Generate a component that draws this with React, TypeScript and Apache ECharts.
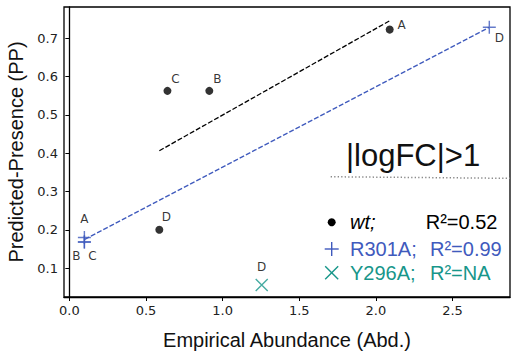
import React, { useEffect, useRef } from "react";
import * as echarts from "echarts";

// ---- data ----
const wtNames = ["A", "B", "C", "D"];
const wtX = [2.09, 0.913, 0.64, 0.587];
const wtY = [0.723, 0.563, 0.563, 0.2];

const r301Names = ["A", "B", "C", "D"];
const r301X = [0.098, 0.098, 0.098, 2.74];
const r301Y = [0.18, 0.168, 0.168, 0.729];

const y296Names = ["D"];
const y296X = [1.255];
const y296Y = [0.056];

// fitted regression segments (endpoints)
const wtFitX = [0.587, 2.09];
const wtFitY = [0.4065, 0.746];
const r301FitX = [0.1, 2.74];
const r301FitY = [0.175, 0.729];

// |logFC|>1 threshold line
const thrX = [1.705, 2.875];
const thrY = [0.3386, 0.3345];

const xTicks = [0, 0.5, 1.0, 1.5, 2.0, 2.5];
const yTicks = [0.1, 0.2, 0.3, 0.4, 0.5, 0.6, 0.7];

const legendGroups = ["wt;", "R301A;", "Y296A;"];
const legendR2 = ["R²=0.52", "R²=0.99", "R²=NA"];

// ---- styling ----
const BLUE = "#3f5abd";
const TEAL = "#17968a";
const SANS = "Liberation Sans, Arial, sans-serif";
const DEJA = "DejaVu Sans, sans-serif";

const wtLabelOffsets = [[12, -5], [8, -12], [8, -12], [7, -13]];
const r301LabelOffsets = [[0, -18], [-8, 14], [8, 14], [10, 11]];
const y296LabelOffsets = [[0, -18]];

const PLUS = "path://M0,4.45h10v1.1h-10z M4.45,0h1.1v10h-1.1z";
const CROSS = "path://M0,0.75L0.75,0L10,9.25L9.25,10z M9.25,0L10,0.75L0.75,10L0,9.25z";

function pts(xs: number[], ys: number[], names: string[], offs: number[][]) {
  return xs.map((x, i) => ({
    value: [x, ys[i]],
    name: names[i],
    label: { offset: offs[i] },
  }));
}

export default function App() {
  const ref = useRef<HTMLDivElement>(null);
  useEffect(() => {
    if (!ref.current) return;
    const chart = echarts.init(ref.current, undefined, { renderer: "svg" });
    const pointLabel = {
      show: true,
      position: "inside",
      formatter: (p: any) => p.name,
      color: "#000",
      fontSize: 12,
      fontFamily: DEJA,
    };
    const lx = 331.7;
    const ly = [222.3, 249, 272.7];
    chart.setOption({
      animation: false,
      backgroundColor: "#fff",
      grid: {
        left: 64,
        top: 7,
        right: 3,
        bottom: 57,
        containLabel: false,
        outerBoundsMode: "none",
        show: true,
        borderColor: "#000",
        borderWidth: 1.3,
        backgroundColor: "transparent",
      },
      xAxis: {
        type: "value",
        min: -0.035,
        max: 2.875,
        name: "Empirical Abundance (Abd.)",
        nameLocation: "middle",
        nameGap: 33,
        nameTextStyle: { fontFamily: SANS, fontSize: 20, color: "#111" },
        axisLine: { show: true, lineStyle: { color: "#000", width: 1.3 } },
        axisTick: { show: true, length: 4, customValues: xTicks, lineStyle: { color: "#000" } },
        axisLabel: {
          customValues: xTicks,
          formatter: (v: number) => v.toFixed(1),
          fontFamily: DEJA,
          fontSize: 13,
          color: "#222",
          margin: 7,
        },
        splitLine: { show: false },
      },
      yAxis: {
        type: "value",
        min: 0.0245,
        max: 0.782,
        name: "Predicted-Presence (PP)",
        nameLocation: "middle",
        nameGap: 35,
        nameTextStyle: { fontFamily: SANS, fontSize: 20, color: "#111" },
        axisLine: { show: true, lineStyle: { color: "#000", width: 1.3 } },
        axisTick: { show: true, length: 4, customValues: yTicks, lineStyle: { color: "#000" } },
        axisLabel: {
          customValues: yTicks,
          formatter: (v: number) => v.toFixed(1),
          fontFamily: DEJA,
          fontSize: 13,
          color: "#222",
          margin: 6,
        },
        splitLine: { show: false },
      },
      series: [
        {
          type: "line",
          data: wtFitX.map((x, i) => [x, wtFitY[i]]),
          showSymbol: false,
          symbol: "none",
          lineStyle: { color: "#000", width: 1.3, type: [5, 2] },
          silent: true,
        },
        {
          type: "line",
          data: r301FitX.map((x, i) => [x, r301FitY[i]]),
          showSymbol: false,
          symbol: "none",
          lineStyle: { color: BLUE, width: 1.3, type: [5, 2] },
          silent: true,
        },
        {
          type: "line",
          data: thrX.map((x, i) => [x, thrY[i]]),
          showSymbol: false,
          symbol: "none",
          clip: false,
          lineStyle: { color: "#888", width: 1.5, type: [1.3, 2.2] },
          silent: true,
        },
        {
          name: "wt",
          type: "scatter",
          symbol: "circle",
          symbolSize: 8,
          itemStyle: { color: "#000" },
          label: pointLabel,
          data: pts(wtX, wtY, wtNames, wtLabelOffsets),
        },
        {
          name: "R301A",
          type: "scatter",
          symbol: PLUS,
          symbolSize: 13,
          itemStyle: { color: BLUE },
          label: pointLabel,
          data: pts(r301X, r301Y, r301Names, r301LabelOffsets),
        },
        {
          name: "Y296A",
          type: "scatter",
          symbol: CROSS,
          symbolSize: 13,
          itemStyle: { color: TEAL },
          label: pointLabel,
          data: pts(y296X, y296Y, y296Names, y296LabelOffsets),
        },
      ],
      graphic: [
        {
          type: "text",
          x: 346,
          y: 155,
          style: {
            text: "|logFC|>1",
            font: `31px ${SANS}`,
            fill: "#111",
            textVerticalAlign: "middle",
          },
        },
        { type: "circle", shape: { cx: lx, cy: ly[0], r: 4 }, style: { fill: "#000" } },
        { type: "line", shape: { x1: lx - 7, y1: ly[1], x2: lx + 7, y2: ly[1] }, style: { stroke: BLUE, lineWidth: 1.4 } },
        { type: "line", shape: { x1: lx, y1: ly[1] - 7, x2: lx, y2: ly[1] + 7 }, style: { stroke: BLUE, lineWidth: 1.4 } },
        { type: "line", shape: { x1: lx - 6.5, y1: ly[2] - 6.5, x2: lx + 6.5, y2: ly[2] + 6.5 }, style: { stroke: TEAL, lineWidth: 1.4 } },
        { type: "line", shape: { x1: lx - 6.5, y1: ly[2] + 6.5, x2: lx + 6.5, y2: ly[2] - 6.5 }, style: { stroke: TEAL, lineWidth: 1.4 } },
        {
          type: "text", x: 350, y: ly[0],
          style: { text: legendGroups[0], font: `italic 20px ${SANS}`, fill: "#000", textVerticalAlign: "middle" },
        },
        {
          type: "text", x: 425.7, y: ly[0],
          style: { text: legendR2[0], font: `20px ${SANS}`, fill: "#000", textVerticalAlign: "middle" },
        },
        {
          type: "text", x: 350, y: ly[1],
          style: { text: legendGroups[1], font: `20px ${SANS}`, fill: BLUE, textVerticalAlign: "middle" },
        },
        {
          type: "text", x: 430, y: ly[1],
          style: { text: legendR2[1], font: `20px ${SANS}`, fill: BLUE, textVerticalAlign: "middle" },
        },
        {
          type: "text", x: 350, y: ly[2],
          style: { text: legendGroups[2], font: `20px ${SANS}`, fill: TEAL, textVerticalAlign: "middle" },
        },
        {
          type: "text", x: 430, y: ly[2],
          style: { text: legendR2[2], font: `20px ${SANS}`, fill: TEAL, textVerticalAlign: "middle" },
        },
      ],
    });
    return () => chart.dispose();
  }, []);
  return (
    <div
      ref={ref}
      style={{ position: "absolute", left: 0, top: 0, width: 513, height: 354 }}
    />
  );
}
